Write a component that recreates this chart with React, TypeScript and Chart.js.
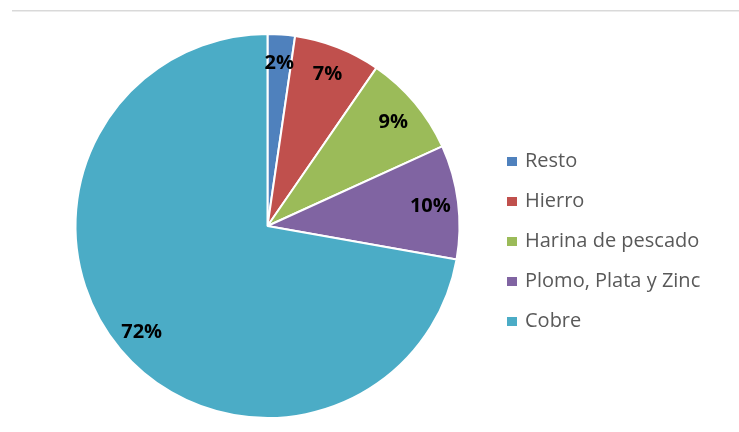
import React, { useEffect, useRef } from "react";
import { Chart, registerables } from "chart.js";

Chart.register(...registerables);

const categories = ["Resto", "Hierro", "Harina de pescado", "Plomo, Plata y Zinc", "Cobre"];
const shares = [2.3, 7.3, 8.6, 9.6, 72.2];
const pctLabels = ["2%", "7%", "9%", "10%", "72%"];
const colors = ["#4F81BD", "#C0504D", "#9BBB59", "#8064A2", "#4BACC6"];

const decorPlugin = {
  id: "decor",
  beforeDraw(chart: any) {
    const ctx = chart.ctx;
    ctx.save();
    ctx.fillStyle = "#FFFFFF";
    ctx.fillRect(0, 0, chart.width, chart.height);
    ctx.fillStyle = "#D9D9D9";
    ctx.fillRect(12, 10, chart.width - 12, 1.5);
    ctx.restore();
  },
  afterDatasetsDraw(chart: any) {
    const ctx = chart.ctx;
    const meta = chart.getDatasetMeta(0);
    ctx.save();
    ctx.font = "bold 20px 'Open Sans'";
    ctx.fillStyle = "#000000";
    ctx.textAlign = "center";
    ctx.textBaseline = "alphabetic";
    meta.data.forEach((arc: any, i: number) => {
      const p = arc.getProps(["x", "y", "startAngle", "endAngle", "outerRadius"], true);
      const mid = (p.startAngle + p.endAngle) / 2;
      const r = p.outerRadius * 0.855;
      const x = p.x + Math.cos(mid) * r;
      const y = p.y + Math.sin(mid) * r;
      ctx.fillText(pctLabels[i], x, y + 7);
    });
    ctx.restore();
  },
  afterDraw(chart: any) {
    const ctx = chart.ctx;
    ctx.save();
    ctx.font = "20px 'Open Sans'";
    ctx.textAlign = "left";
    ctx.textBaseline = "alphabetic";
    categories.forEach((name, i) => {
      const base = 167 + i * 40;
      ctx.fillStyle = colors[i];
      ctx.fillRect(507, base - 10, 10, 9);
      ctx.fillStyle = "#595959";
      ctx.fillText(name, 525, base);
    });
    ctx.restore();
  },
};

export default function App() {
  const ref = useRef<HTMLCanvasElement | null>(null);
  useEffect(() => {
    if (!ref.current) return;
    const chart = new Chart(ref.current, {
      type: "pie",
      data: {
        labels: categories,
        datasets: [
          {
            data: shares,
            backgroundColor: colors,
            borderColor: "#FFFFFF",
            borderWidth: 2,
          },
        ],
      },
      options: {
        responsive: false,
        animation: false,
        radius: 192,
        layout: { padding: { left: 75, right: 279, top: 34, bottom: 14 } },
        plugins: {
          legend: { display: false },
          tooltip: { enabled: false },
        },
      } as any,
      plugins: [decorPlugin],
    });
    return () => chart.destroy();
  }, []);
  return (
    <div style={{ position: "absolute", left: 0, top: 0, width: 739, height: 432 }}>
      <canvas ref={ref} width={739} height={432} style={{ display: "block" }} />
    </div>
  );
}
